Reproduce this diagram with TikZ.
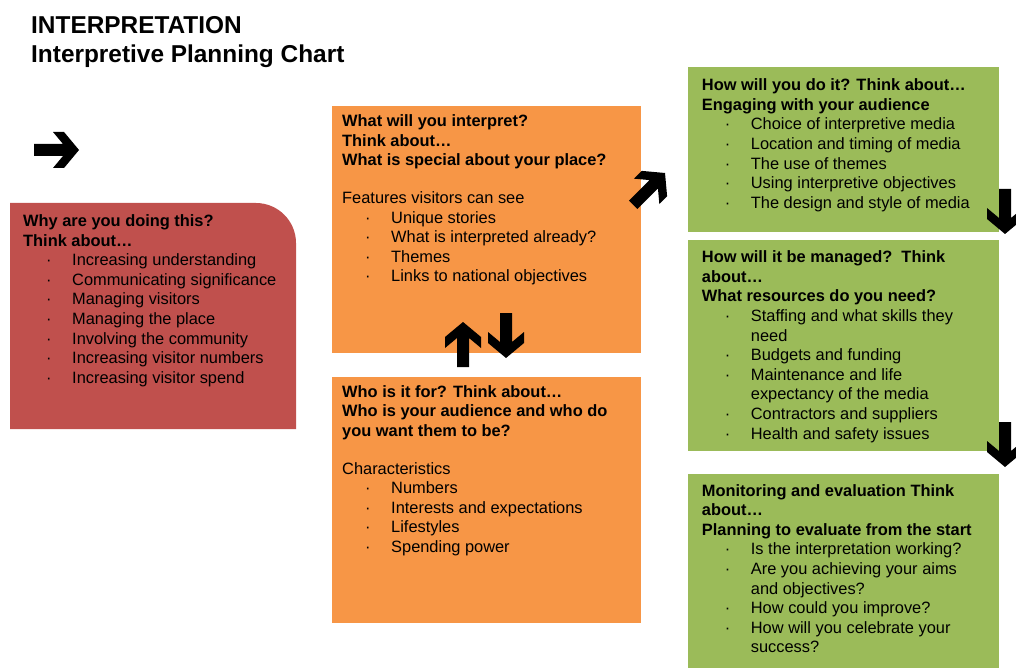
\documentclass[tikz,border=0pt]{standalone}
\usepackage{fontspec}
\setmainfont{Liberation Sans}

\definecolor{whyred}{HTML}{C0504D}
\definecolor{whatorange}{HTML}{F79646}
\definecolor{howgreen}{HTML}{9BBB59}

% bullet line and wrapped continuation line
\newcommand\dotitem[1]{\hspace*{23pt}\makebox[26pt][l]{·}#1}
\newcommand\wrapitem[1]{\hspace*{49pt}#1}

\tikzset{
  boxtext/.style={anchor=north west, inner sep=0pt, align=left,
    font=\fontsize{16.4}{19.6}\selectfont},
  titletext/.style={anchor=base west, inner sep=0pt,
    font=\fontsize{24.4}{28}\selectfont\bfseries},
  blockarrow/.pic={
    \fill[black] (-45,-6) -- (-16,-6) -- (-26,-18) -- (-15,-18) -- (0,0)
      -- (-15,18) -- (-26,18) -- (-16,6) -- (-45,6) -- cycle;
  }
}

\begin{document}
\begin{tikzpicture}[x=1pt,y=-1pt]
\useasboundingbox (0,0) rectangle (1016,668);

\node[titletext] (title) at (31,34) {INTERPRETATION};
\node[titletext] (subtitle) at (31,62.5) {Interpretive Planning Chart};

% boxes
\fill[whyred] (10,429) -- (10,203) -- (256,203)
  .. controls (278,203) and (296,221) .. (296,243) -- (296,429) -- cycle;
\fill[whatorange] (332,106) rectangle (641,353);
\fill[whatorange] (332,377) rectangle (641,623);
\fill[howgreen] (688,67) rectangle (999,232);
\fill[howgreen] (688,240) rectangle (999,451);
\fill[howgreen] (688,474) rectangle (999,680);

% top of each text block = first baseline minus 12pt
\node[boxtext] (why) at (23,214.5) {%
  \textbf{Why are you doing this?}\\
  \textbf{Think about…}\\
  \dotitem{Increasing understanding}\\
  \dotitem{Communicating significance}\\
  \dotitem{Managing visitors}\\
  \dotitem{Managing the place}\\
  \dotitem{Involving the community}\\
  \dotitem{Increasing visitor numbers}\\
  \dotitem{Increasing visitor spend}};

\node[boxtext] (what) at (342,114.7) {%
  \textbf{What will you interpret?}\\
  \textbf{Think about…}\\
  \textbf{What is special about your place?}\\[18pt]
  Features visitors can see\\
  \dotitem{Unique stories}\\
  \dotitem{What is interpreted already?}\\
  \dotitem{Themes}\\
  \dotitem{Links to national objectives}};

\node[boxtext] (who) at (342,385.3) {%
  \textbf{Who is it for? Think about…}\\
  \textbf{Who is your audience and who do}\\
  \textbf{you want them to be?}\\[18pt]
  Characteristics\\
  \dotitem{Numbers}\\
  \dotitem{Interests and expectations}\\
  \dotitem{Lifestyles}\\
  \dotitem{Spending power}};

\node[boxtext] (how) at (701.7,78.7) {%
  \textbf{How will you do it? Think about…}\\
  \textbf{Engaging with your audience}\\
  \dotitem{Choice of interpretive media}\\
  \dotitem{Location and timing of media}\\
  \dotitem{The use of themes}\\
  \dotitem{Using interpretive objectives}\\
  \dotitem{The design and style of media}};

\node[boxtext] (manage) at (701.7,250.7) {%
  \textbf{How will it be managed?\ \ Think}\\
  \textbf{about…}\\
  \textbf{What resources do you need?}\\
  \dotitem{Staffing and what skills they}\\
  \wrapitem{need}\\
  \dotitem{Budgets and funding}\\
  \dotitem{Maintenance and life}\\
  \wrapitem{expectancy of the media}\\
  \dotitem{Contractors and suppliers}\\
  \dotitem{Health and safety issues}};

\node[boxtext] (monitor) at (701.7,484) {%
  \textbf{Monitoring and evaluation Think}\\
  \textbf{about…}\\
  \textbf{Planning to evaluate from the start}\\
  \dotitem{Is the interpretation working?}\\
  \dotitem{Are you achieving your aims}\\
  \wrapitem{and objectives?}\\
  \dotitem{How could you improve?}\\
  \dotitem{How will you celebrate your}\\
  \wrapitem{success?}};

% arrows
\pic at (79,150) {blockarrow};
\pic[rotate=45] at (665,173) {blockarrow};
\pic[rotate=90] at (463,322) {blockarrow};
\pic[rotate=-90] at (506,358) {blockarrow};
\pic[rotate=-90] at (1005,234) {blockarrow};
\pic[rotate=-90] at (1005,467) {blockarrow};

\end{tikzpicture}
\end{document}
